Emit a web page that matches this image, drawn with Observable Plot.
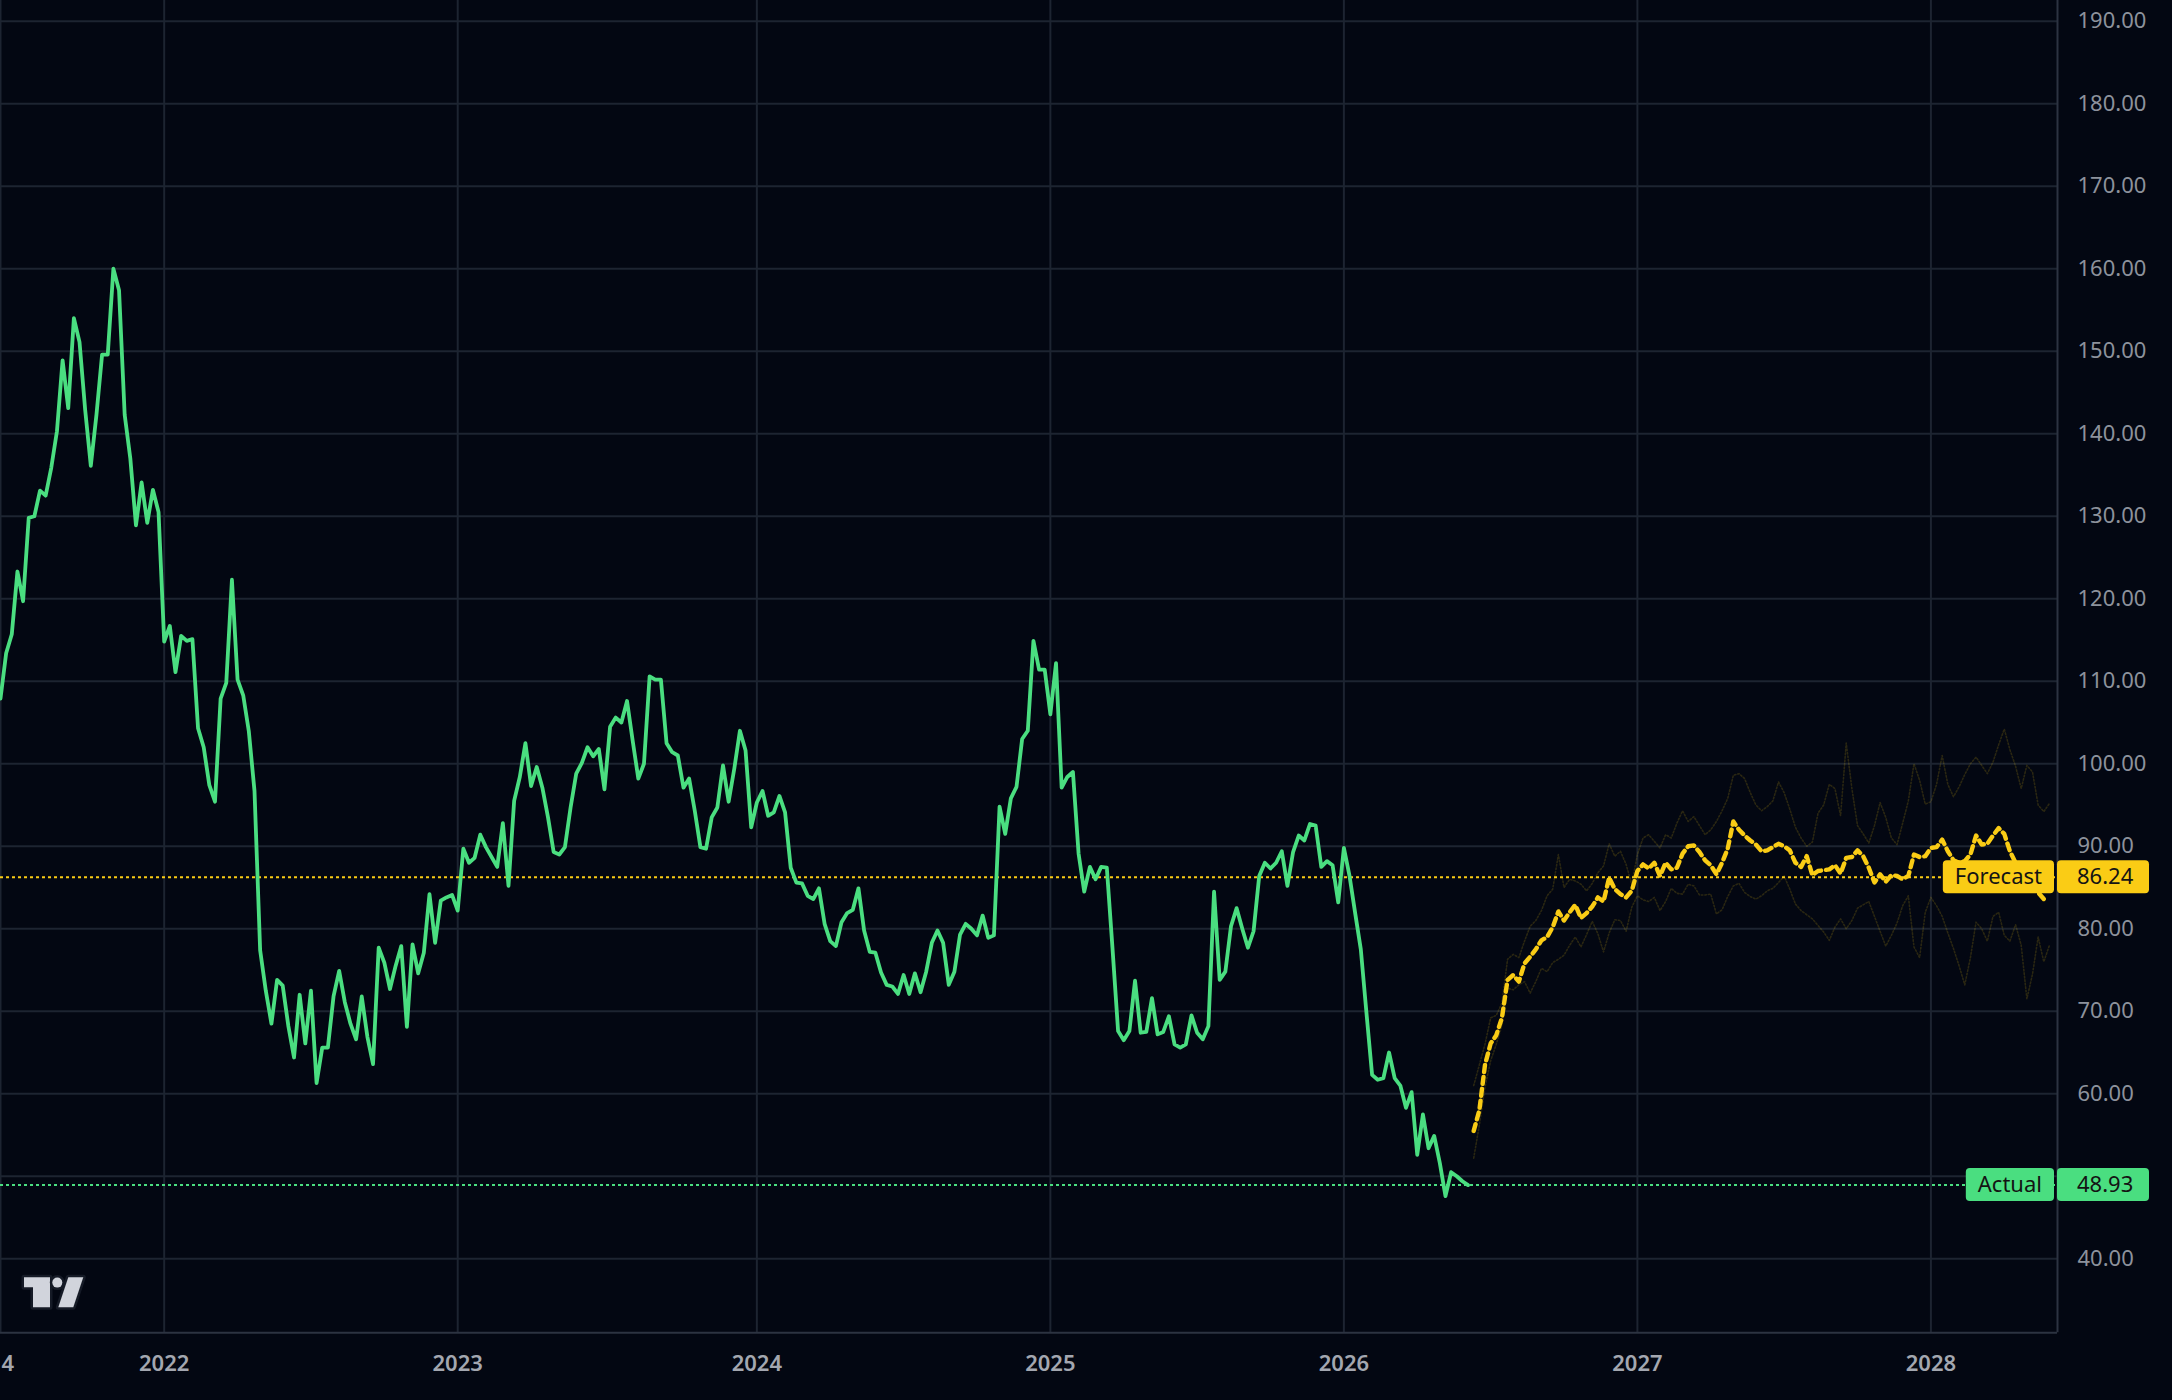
<!DOCTYPE html>
<html>
<head>
<meta charset="utf-8">
<script src="https://cdn.jsdelivr.net/npm/d3@7"></script>
<script src="https://cdn.jsdelivr.net/npm/@observablehq/plot@0.6"></script>
<style>
  html, body { margin: 0; padding: 0; background: #030712; overflow: hidden; }
  #chart svg { display: block; }
</style>
</head>
<body>
<div id="chart"></div>
<script>
// ---------- data (weekly bars) ----------
const actualStart = "2021-06-07";
const actualValues = [
  107.9, 113.4, 115.7, 123.3, 119.7, 129.8, 130.0, 133.1, 132.5, 135.9, 140.3, 148.9, 143.1, 154.0, 151.1, 142.9,
  136.1, 142.3, 149.6, 149.6, 160.0, 157.4, 142.3, 137.0, 128.9, 134.1, 129.2, 133.2, 130.5, 114.8, 116.7, 111.1,
  115.5, 114.9, 115.1, 104.3, 102.0, 97.4, 95.4, 107.9, 109.8, 122.3, 110.2, 108.3, 103.9, 96.7, 77.4, 72.5,
  68.5, 73.8, 73.1, 68.2, 64.4, 72.0, 66.1, 72.5, 61.3, 65.6, 65.6, 71.8, 74.9, 71.1, 68.5, 66.6, 71.8, 66.9,
  63.6, 77.7,
  75.9, 72.7, 75.5, 77.9, 68.1, 78.1, 74.6, 77.1, 84.2, 78.3, 83.4, 83.8, 84.1, 82.2, 89.7, 88.0, 88.6, 91.4,
  89.9, 88.7, 87.5, 92.8, 85.2, 95.5, 98.4, 102.5, 97.3, 99.6, 97.1, 93.5, 89.3, 89.0, 89.9, 94.7, 98.8, 100.1,
  102.0, 100.9, 101.8, 96.9, 104.5, 105.6, 105.0, 107.6, 102.8, 98.2, 100.0, 110.6, 110.2, 110.2, 102.5, 101.4,
  101.0, 97.1, 98.2, 94.3, 89.9, 89.7, 93.5, 94.7, 99.8, 95.4, 99.4, 104.0, 101.6, 92.3, 95.3, 96.7, 93.7, 94.1,
  96.1,
  94.1, 87.4, 85.6, 85.5, 84.0, 83.6, 84.9, 80.6, 78.5, 77.9, 80.8, 81.9, 82.3, 84.9, 79.8, 77.2, 77.1, 74.7,
  73.2, 73.0, 72.1, 74.4, 72.1, 74.6, 72.3, 74.8, 78.3, 79.8, 78.3, 73.2, 74.8, 79.3, 80.6, 80.0, 79.2, 81.6,
  78.9, 79.2, 94.8, 91.5, 95.8, 97.2, 103.0, 104.0, 114.9, 111.4, 111.4, 106.0, 112.2, 97.1, 98.4, 99.0, 89.1,
  84.5, 87.5, 86.0, 87.5, 87.4, 77.7, 67.6, 66.5, 67.6, 73.7, 67.4, 67.5, 71.6, 67.2,
  67.5, 69.4, 66.0, 65.6, 66.0, 69.5, 67.4, 66.6, 68.2, 84.5, 73.8, 74.8, 80.3, 82.5, 80.0, 77.7, 79.7, 86.4,
  88.0, 87.3, 88.0, 89.4, 85.2, 89.3, 91.3, 90.7, 92.7, 92.5, 87.5, 88.2, 87.7, 83.2, 89.8, 86.4, 81.9, 77.5,
  69.8, 62.3, 61.7, 61.9, 65.0, 61.9, 61.0, 58.3, 60.2, 52.6, 57.5, 53.4, 54.9, 51.6, 47.6, 50.5, 50.0, 49.4,
  48.93
];

const forecastStart = "2026-06-08";
const forecastValues = [
  55.5, 58.0, 63.5, 66.1, 67.1, 69.2, 73.8, 74.4, 73.6, 75.8,
  76.6, 77.5, 78.6, 79.0, 80.2, 82.1, 81.0, 82.0, 82.9, 81.3,
  81.9, 82.7, 83.8, 83.3, 86.2, 84.8, 84.2, 83.8, 84.6, 87.0,
  87.8, 87.3, 88.0, 86.4, 88.0, 87.2, 87.4, 89.1, 90.0, 90.1,
  89.3, 88.3, 87.7, 86.6, 88.0, 89.7, 93.0, 92.0, 91.3, 90.7,
  90.2, 89.4, 89.5, 89.9, 90.3, 90.0, 89.5, 88.0, 87.5, 88.8,
  86.5, 87.0, 87.1, 87.2, 87.7, 86.7, 88.6, 88.7, 89.5, 88.8,
  87.4, 85.6, 86.6, 85.7, 86.5, 86.4, 86.0, 86.4, 89.0, 88.7,
  88.8, 89.8, 89.9, 90.8, 89.4, 88.3, 88.0, 88.2, 89.0, 91.3,
  90.2, 90.3, 91.3, 92.2, 91.5, 89.4, 88.0, 87.0, 86.0, 85.2,
  84.4, 83.6
];
const upperBandValues = [
  61.0, 63.5, 66.0, 69.2, 69.5, 71.0, 76.3, 76.9, 76.5, 78.5,
  80.3, 81.0, 82.2, 84.0, 84.8, 89.0, 85.0, 86.0, 85.8, 85.4,
  84.6, 85.5, 86.8, 87.6, 90.3, 88.8, 89.4, 87.8, 85.4, 89.0,
  91.0, 91.4, 90.6, 89.8, 91.4, 91.0, 92.8, 94.3, 93.0, 93.6,
  92.5, 91.4, 92.0, 93.0, 94.3, 95.8, 98.6, 98.8, 98.2, 96.5,
  95.0, 94.3, 94.8, 95.5, 97.8, 96.5, 94.5, 92.3, 91.0, 90.0,
  90.5, 94.0, 95.0, 97.5, 97.0, 93.7, 102.5, 97.0, 92.5, 91.5,
  90.4, 92.5, 95.3, 93.5, 91.0, 90.2, 92.8, 95.5, 100.0, 98.0,
  95.1, 95.4, 97.5, 101.0, 97.5, 96.0, 97.2, 98.7, 100.0, 100.8,
  99.8, 98.8, 100.2, 102.3, 104.2, 101.7, 99.7, 97.0, 99.8, 99.0,
  95.0, 94.2, 95.2
];
const lowerBandValues = [
  52.2, 56.2, 60.8, 64.0, 66.0, 68.3, 72.8, 72.6, 73.2, 73.6,
  72.2, 73.6, 75.2, 74.8, 75.9, 76.3, 76.8, 78.0, 79.0, 77.8,
  79.3, 80.9, 79.4, 77.2, 79.5, 81.1, 81.0, 79.7, 82.6, 84.0,
  83.5, 83.3, 83.8, 82.2, 83.3, 84.9, 84.3, 84.2, 85.4, 85.2,
  84.1, 84.1, 84.2, 81.8, 82.3, 83.9, 85.2, 85.5, 84.4, 83.9,
  83.6, 84.0, 84.6, 84.9, 85.6, 86.4, 84.8, 83.0, 82.2, 81.7,
  81.2, 80.4, 79.6, 78.6, 80.2, 81.2, 80.0, 81.0, 82.5, 82.9,
  83.3, 81.5, 79.7, 77.9, 79.2, 80.7, 82.8, 84.0, 77.8, 76.5,
  82.0, 83.8, 82.8, 81.5, 79.5, 77.6, 75.5, 73.2, 76.5, 80.8,
  80.0, 78.5, 81.5, 82.0, 79.2, 78.5, 80.5, 78.0, 71.5, 74.5,
  79.0, 76.0, 78.0
];

const levelNames  = ["Forecast", "Actual"];
const levelValues = [86.24, 48.93];

// ticks and grid
const xGridDates  = ["2021-06-07", "2021-12-27", "2022-12-26", "2024-01-01", "2024-12-30", "2025-12-29", "2026-12-28", "2027-12-27"];
const xTickDates  = ["2021-06-16", "2021-12-27", "2022-12-26", "2024-01-01", "2024-12-30", "2025-12-29", "2026-12-28", "2027-12-27"];
const xTickLabels = ["4", "2022", "2023", "2024", "2025", "2026", "2027", "2028"];
const yGrid = [40, 50, 60, 70, 80, 90, 100, 110, 120, 130, 140, 150, 160, 170, 180, 190];
const yLabelTicks = [40, 60, 70, 80, 90, 100, 110, 120, 130, 140, 150, 160, 170, 180, 190];

const xDomain = ["2021-06-07", "2028-06-01"];
const yDomain = [31.03, 192.51];

// ---------- styles ----------
const BG = "#030712", GRID = "#1d2431", AXISLINE = "#2c3341";
const GREEN = "#4ade80", YELLOW = "#facc15", INK = "#141414";
const FONT = "'Noto Sans', 'Open Sans', sans-serif";
const levelColors = [YELLOW, GREEN];

// ---------- build tables ----------
const weekly = (start, values) => values.map((v, i) => ({date: d3.utcDay.offset(new Date(start), 7 * i), value: v}));
const actual = weekly(actualStart, actualValues);
const forecast = weekly(forecastStart, forecastValues);
const upperBand = weekly(forecastStart, upperBandValues);
const lowerBand = weekly(forecastStart, lowerBandValues);
const xGrid = xGridDates.map(d => new Date(d));
const xTicks = xTickDates.map(d => new Date(d));
const xLabelMap = new Map(xTicks.map((d, i) => [+d, xTickLabels[i]]));

const chart = Plot.plot({
  width: 2172,
  height: 1400,
  marginLeft: 0,
  marginRight: 115,
  marginTop: 0,
  marginBottom: 67.7,
  style: {background: BG, fontFamily: FONT, overflow: "hidden"},
  x: {type: "utc", domain: xDomain.map(d => new Date(d)), label: null},
  y: {domain: yDomain, label: null},
  marks: [
    Plot.gridX(xGrid, {stroke: GRID, strokeOpacity: 1, strokeWidth: 2}),
    Plot.gridY(yGrid, {stroke: GRID, strokeOpacity: 1, strokeWidth: 2}),
    Plot.ruleY([yDomain[0]], {stroke: AXISLINE, strokeWidth: 2}),
    Plot.ruleX([new Date(xDomain[1])], {stroke: AXISLINE, strokeWidth: 2}),
    Plot.ruleY([levelValues[0]], {stroke: YELLOW, strokeWidth: 2, strokeDasharray: "3 3"}),
    Plot.ruleY([levelValues[1]], {stroke: GREEN, strokeWidth: 2, strokeDasharray: "3 3"}),
    Plot.line(upperBand, {x: "date", y: "value", stroke: YELLOW, strokeOpacity: 0.16, strokeWidth: 1.6, strokeDasharray: "1.5 2"}),
    Plot.line(lowerBand, {x: "date", y: "value", stroke: YELLOW, strokeOpacity: 0.16, strokeWidth: 1.6, strokeDasharray: "1.5 2"}),
    Plot.line(forecast, {x: "date", y: "value", stroke: YELLOW, strokeWidth: 4.4, strokeDasharray: "7 5"}),
    Plot.line(actual, {x: "date", y: "value", stroke: GREEN, strokeWidth: 3.8, strokeLinejoin: "round"}),
    Plot.axisX(xTicks, {tickSize: 0, tickPadding: 23, tickFormat: d => xLabelMap.get(+d), label: null,
      fontSize: 22, fontWeight: 600, fill: "#a3a7b0"}),
    Plot.axisY(yLabelTicks, {anchor: "right", tickSize: 0, tickPadding: 20, tickFormat: d => d.toFixed(2), label: null,
      fontSize: 22, fill: "#8d929c"})
  ]
});

document.getElementById("chart").append(chart);

// ---------- price-axis labels (positioned with Plot's own scales) ----------
const sx = chart.scale("x"), sy = chart.scale("y");
const right = sx.range[1];
const layer = d3.select(chart).append("g").attr("font-family", FONT);
levelNames.forEach((name, i) => {
  const cy = sy.apply(levelValues[i]);
  const g = layer.append("g");
  const nameText = g.append("text")
    .attr("x", right - 3 - 12).attr("y", cy).attr("dy", "0.35em")
    .attr("font-size", 22).attr("text-anchor", "end").attr("fill", INK).text(name);
  const w = nameText.node().getComputedTextLength();
  g.insert("rect", "text")
    .attr("x", right - 3 - 24 - w).attr("y", cy - 16.5)
    .attr("width", w + 24).attr("height", 33).attr("rx", 4)
    .attr("fill", levelColors[i]);
  g.append("rect")
    .attr("x", right).attr("y", cy - 16.5)
    .attr("width", 92).attr("height", 33).attr("rx", 4)
    .attr("fill", levelColors[i]);
  g.append("text")
    .attr("x", right + 20).attr("y", cy).attr("dy", "0.35em")
    .attr("font-size", 22).attr("text-anchor", "start")
    .attr("fill", INK).text(levelValues[i].toFixed(2));
});

// ---------- watermark logo ----------
const logo = d3.select(chart).append("g")
  .attr("transform", `translate(${sx.range[0] + 20},${sy.range[0] - 60})`)
  .attr("fill", "#d1d4dc").attr("stroke", "#151a26").attr("stroke-width", 5)
  .attr("stroke-linejoin", "round").attr("paint-order", "stroke");
logo.append("path").attr("d", "M4 5 H30 V35 H13 V15 H4 Z");
logo.append("circle").attr("cx", 37.3).attr("cy", 10.3).attr("r", 5);
logo.append("path").attr("d", "M48.3 5 H63.3 L53.3 35 H38.3 Z");
</script>
</body>
</html>
